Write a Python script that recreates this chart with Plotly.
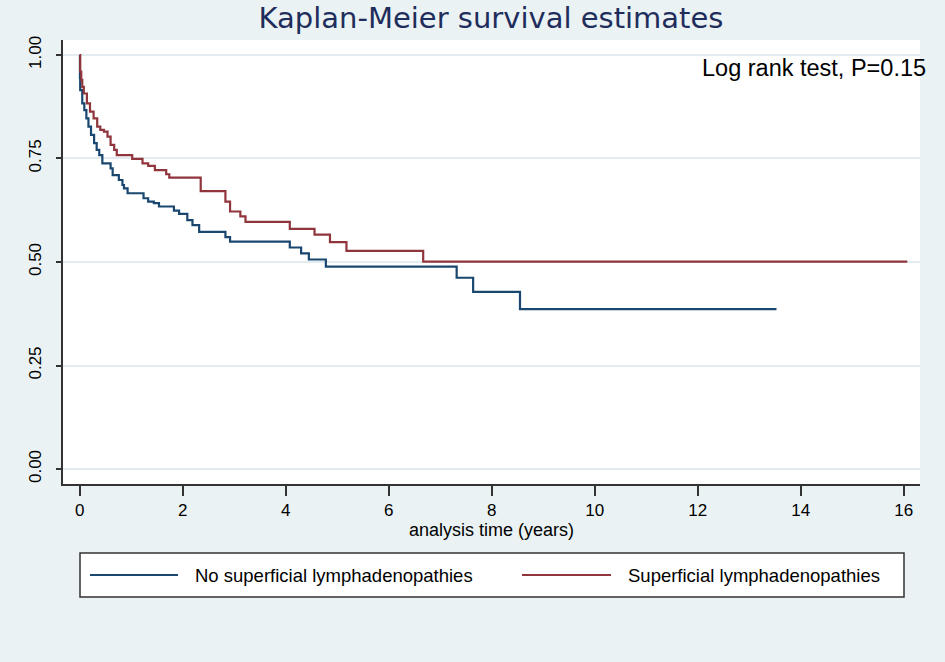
import plotly.graph_objects as go

# Group: No superficial lymphadenopathies (step points: time in years, survival)
blue_t = [0, 0.005, 0.01, 0.05, 0.09, 0.13, 0.17, 0.22, 0.28, 0.33, 0.38, 0.44, 0.60, 0.64,
          0.76, 0.83, 0.86, 0.93, 1.24, 1.33, 1.44, 1.54, 1.83, 1.93, 2.09, 2.19, 2.32, 2.83,
          2.92, 4.08, 4.30, 4.45, 4.78, 7.32, 7.64, 8.55, 13.53]
blue_s = [1.0, 0.944, 0.915, 0.883, 0.867, 0.847, 0.827, 0.807, 0.787, 0.771, 0.758, 0.738,
          0.726, 0.710, 0.698, 0.686, 0.678, 0.666, 0.654, 0.646, 0.642, 0.634, 0.624, 0.616,
          0.601, 0.589, 0.573, 0.560, 0.549, 0.535, 0.521, 0.506, 0.489, 0.462, 0.428, 0.386,
          0.386]

# Group: Superficial lymphadenopathies
red_t = [0, 0.01, 0.03, 0.05, 0.08, 0.14, 0.20, 0.27, 0.34, 0.40, 0.47, 0.54, 0.60, 0.67,
         0.72, 1.02, 1.22, 1.33, 1.46, 1.68, 1.74, 2.35, 2.83, 2.92, 3.12, 3.22, 4.08, 4.56,
         4.86, 5.18, 6.67, 16.07]
red_s = [1.0, 0.96, 0.94, 0.923, 0.907, 0.883, 0.863, 0.847, 0.827, 0.819, 0.815, 0.803,
         0.783, 0.771, 0.758, 0.749, 0.738, 0.732, 0.722, 0.712, 0.704, 0.671, 0.646, 0.622,
         0.610, 0.597, 0.580, 0.566, 0.548, 0.527, 0.501, 0.501]

series_names = ["No superficial lymphadenopathies", "Superficial lymphadenopathies"]
x_ticks = [0, 2, 4, 6, 8, 10, 12, 14, 16]
y_ticks = [0.0, 0.25, 0.5, 0.75, 1.0]
y_tick_labels = ["0.00", "0.25", "0.50", "0.75", "1.00"]

BLUE = "#1a476f"
RED = "#90353b"
BG = "#eaf2f3"
FONT = "Liberation Sans, Arial, sans-serif"

fig = go.Figure()
fig.add_trace(go.Scatter(x=blue_t, y=blue_s, mode="lines", line=dict(color=BLUE, width=2.2, shape="hv"),
                         name=series_names[0], showlegend=False))
fig.add_trace(go.Scatter(x=red_t, y=red_s, mode="lines", line=dict(color=RED, width=2.2, shape="hv"),
                         name=series_names[1], showlegend=False))

fig.update_layout(
    width=945, height=662,
    margin=dict(l=63, r=25, t=40, b=178),
    paper_bgcolor=BG, plot_bgcolor="white",
    font=dict(family=FONT, color="black"),
    title=dict(text="Kaplan-Meier survival estimates", x=0.5196, xanchor="center",
               y=1 - 18 / 662, yanchor="middle",
               font=dict(family="DejaVu Sans, sans-serif", size=29, color="#1f2d5c")),
    showlegend=False,
)

fig.update_xaxes(range=[-0.324, 16.317], tickvals=x_ticks, ticks="outside", ticklen=10,
                 tickwidth=1.5, tickcolor="#333", showline=True, linecolor="#333", linewidth=1.5,
                 showgrid=False, zeroline=False, tickfont=dict(size=17, color="black"),
                 title=dict(text="analysis time (years)", font=dict(size=18, color="black"), standoff=2))
fig.update_yaxes(range=[-0.0362, 1.0362], tickvals=y_ticks, ticktext=y_tick_labels,
                 ticks="outside", ticklen=5, tickwidth=1.5, tickcolor="#333", tickangle=-90,
                 showline=True, linecolor="#333", linewidth=1.5, showgrid=True,
                 gridcolor="#e3edf1", gridwidth=1.5, zeroline=False,
                 tickfont=dict(size=17, color="black"), ticklabelstandoff=8)

# Log rank annotation
fig.add_annotation(text="Log rank test, P=0.15", xref="paper", yref="paper",
                   x=(928 - 63) / 857, y=(484 - 68) / 444, xanchor="right", yanchor="middle",
                   showarrow=False, font=dict(size=23.5, color="black"))

# Legend box (drawn)
fig.add_shape(type="rect", xref="paper", yref="paper", x0=(80 - 63) / 857, x1=(904 - 63) / 857,
              y0=(484 - 597) / 444, y1=(484 - 553) / 444, line=dict(color="#333", width=1.5),
              fillcolor="white", layer="above")
ly = (484 - 575) / 444
for (x0, x1, tx), col, name in zip([(90, 178, 193), (522, 611, 626)], [BLUE, RED], series_names):
    fig.add_shape(type="line", xref="paper", yref="paper", x0=(x0 - 63) / 857, x1=(x1 - 63) / 857,
                  y0=ly, y1=ly, line=dict(color=col, width=2.2), layer="above")
    fig.add_annotation(text=name, xref="paper", yref="paper", x=(tx - 63) / 857, y=ly,
                       xanchor="left", yanchor="middle", showarrow=False,
                       font=dict(size=18.5, color="black"))

fig.write_html("out.html", config={"displayModeBar": False},
               post_script="document.body.style.margin='0';document.body.style.overflow='hidden';")
